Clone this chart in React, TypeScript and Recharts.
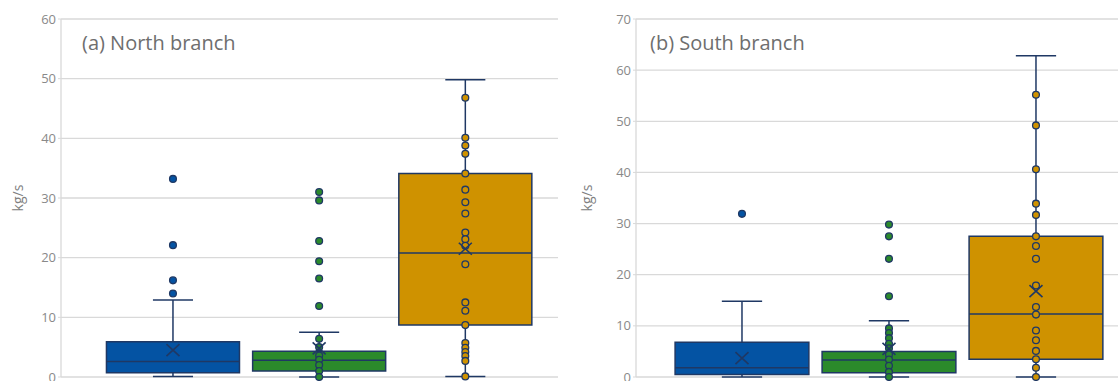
import React from 'react'
import {
  ComposedChart,
  Scatter,
  XAxis,
  YAxis,
  CartesianGrid,
  ReferenceArea,
  ReferenceLine
} from 'recharts'

// three series, same order in both panels
const seriesColors = ['#0453A3', '#2B8A2B', '#CF9200']
const edgeColor = '#1F3864'
const gridColor = '#d9d9d9'

// (a) North branch, kg/s
const northTicks = [0, 10, 20, 30, 40, 50, 60]
const northLow = [0.1, 0, 0.1]
const northQ1 = [0.7, 1.0, 8.7]
const northMedian = [2.6, 2.8, 20.8]
const northQ3 = [5.9, 4.3, 34.1]
const northHigh = [12.9, 7.5, 49.8]
const northMean = [4.5, 4.8, 21.5]
const northPoints = [
  [33.2, 22.1, 16.2, 14.0],
  [31.0, 29.6, 22.8, 19.4, 16.5, 11.9, 6.4, 5.0, 3.6, 2.9, 2.0, 1.0, 0],
  [46.8, 40.1, 38.8, 37.4, 34.1, 31.4, 29.3, 27.4, 24.2, 23.1, 22.0, 18.9, 12.5, 11.1, 8.7, 5.7, 4.9, 4.2, 3.5, 2.7, 0.1]
]

// (b) South branch, kg/s
const southTicks = [0, 10, 20, 30, 40, 50, 60, 70]
const southLow = [0, 0, 0]
const southQ1 = [0.5, 0.85, 3.45]
const southMedian = [1.8, 3.3, 12.3]
const southQ3 = [6.8, 5.0, 27.5]
const southHigh = [14.8, 11.0, 62.8]
const southMean = [3.7, 5.5, 16.8]
const southPoints = [
  [31.9],
  [29.8, 27.5, 23.1, 15.8, 9.5, 8.6, 7.6, 6.5, 5.6, 4.4, 3.4, 2.2, 1.0, 0],
  [55.2, 49.2, 40.6, 33.9, 31.7, 27.5, 25.6, 23.1, 17.9, 13.7, 12.2, 9.1, 7.2, 5.1, 3.45, 1.8, 0]
]

const BOX_HALF = 0.455
const CAP_HALF = 0.137

const Cross = ({ cx, cy }: any) => (
  <path
    d={`M${cx - 6.5},${cy - 6} L${cx + 6.5},${cy + 6} M${cx + 6.5},${cy - 6} L${cx - 6.5},${cy + 6}`}
    stroke={edgeColor}
    strokeWidth={1.6}
    fill="none"
  />
)

function BoxPanel(props: any) {
  const { left, title, labelDx, xDomain, yMax, ticks, low, q1, median, q3, high, mean, points } = props
  const lineStyle = { stroke: edgeColor, strokeWidth: 1.5, ifOverflow: 'visible' as const }

  return (
    <div style={{ position: 'absolute', left, top: 0, width: 570, height: 381 }}>
      <ComposedChart width={570} height={381} margin={{ top: 19, right: 12, bottom: 4, left: 0 }}>
        <CartesianGrid vertical={false} stroke={gridColor} strokeWidth={1.3} />
        <XAxis type="number" dataKey="x" domain={xDomain} allowDataOverflow hide />
        <YAxis
          dataKey="y"
          type="number"
          domain={[0, yMax]}
          ticks={ticks}
          interval={0}
          width={61}
          axisLine={{ stroke: gridColor, strokeWidth: 1.3 }}
          tickLine={{ stroke: gridColor }}
          tickSize={3}
          tickMargin={2}
          tick={{ fill: '#898989', fontSize: 13, fontFamily: 'Open Sans' }}
          label={{
            value: 'kg/s',
            angle: -90,
            position: 'center',
            dx: labelDx,
            style: { fill: '#808080', fontSize: 14, fontFamily: 'Open Sans', textAnchor: 'middle' }
          }}
        />
        <YAxis
          yAxisId="frame"
          orientation="right"
          width={0}
          domain={[0, yMax]}
          tick={false}
          tickLine={false}
          axisLine={{ stroke: gridColor, strokeWidth: 1.3 }}
        />

        {/* boxes */}
        {q1.map((v: number, i: number) => (
          <ReferenceArea
            key={`box-${i}`}
            x1={i - BOX_HALF}
            x2={i + BOX_HALF}
            y1={v}
            y2={q3[i]}
            fill={seriesColors[i]}
            fillOpacity={1}
            stroke={edgeColor}
            strokeWidth={1.5}
            ifOverflow="visible"
          />
        ))}

        {/* whiskers and caps */}
        {high.map((v: number, i: number) => (
          <ReferenceLine key={`wh-${i}`} segment={[{ x: i, y: q3[i] }, { x: i, y: v }]} {...lineStyle} />
        ))}
        {low.map((v: number, i: number) => (
          <ReferenceLine key={`wl-${i}`} segment={[{ x: i, y: q1[i] }, { x: i, y: v }]} {...lineStyle} />
        ))}
        {high.map((v: number, i: number) => (
          <ReferenceLine key={`ch-${i}`} segment={[{ x: i - CAP_HALF, y: v }, { x: i + CAP_HALF, y: v }]} {...lineStyle} />
        ))}
        {low.map((v: number, i: number) => (
          <ReferenceLine key={`cl-${i}`} segment={[{ x: i - CAP_HALF, y: v }, { x: i + CAP_HALF, y: v }]} {...lineStyle} />
        ))}
        {median.map((v: number, i: number) => (
          <ReferenceLine key={`md-${i}`} segment={[{ x: i - BOX_HALF, y: v }, { x: i + BOX_HALF, y: v }]} {...lineStyle} />
        ))}

        {/* data points */}
        {points.map((list: number[], i: number) => (
          <Scatter
            key={`pts-${i}`}
            data={list.map((v) => ({ x: i, y: v }))}
            isAnimationActive={false}
            shape={(p: any) => (
              <circle cx={p.cx} cy={p.cy} r={3.4} fill={seriesColors[i]} stroke={edgeColor} strokeWidth={1.3} />
            )}
          />
        ))}

        {/* means */}
        <Scatter
          data={mean.map((v: number, i: number) => ({ x: i, y: v }))}
          isAnimationActive={false}
          shape={(p: any) => <Cross cx={p.cx} cy={p.cy} />}
        />
      </ComposedChart>
      <div
        style={{
          position: 'absolute',
          left: props.titleLeft,
          top: 33,
          fontFamily: 'Open Sans',
          fontSize: 20,
          lineHeight: '20px',
          color: '#6e6e6e',
          whiteSpace: 'nowrap'
        }}
      >
        {title}
      </div>
    </div>
  )
}

export default function App() {
  return (
    <div style={{ position: 'fixed', left: 0, top: 0, width: 1118, height: 381, overflow: 'hidden', background: '#fff' }}>
      <BoxPanel
        left={0}
        title="(a) North branch"
        titleLeft={82}
        labelDx={-12}
        xDomain={[-0.766, 2.634]}
        yMax={60}
        ticks={northTicks}
        low={northLow}
        q1={northQ1}
        median={northMedian}
        q3={northQ3}
        high={northHigh}
        mean={northMean}
        points={northPoints}
      />
      <BoxPanel
        left={575}
        title="(b) South branch"
        titleLeft={75}
        labelDx={-18}
        xDomain={[-0.721, 2.66]}
        yMax={70}
        ticks={southTicks}
        low={southLow}
        q1={southQ1}
        median={southMedian}
        q3={southQ3}
        high={southHigh}
        mean={southMean}
        points={southPoints}
      />
    </div>
  )
}
